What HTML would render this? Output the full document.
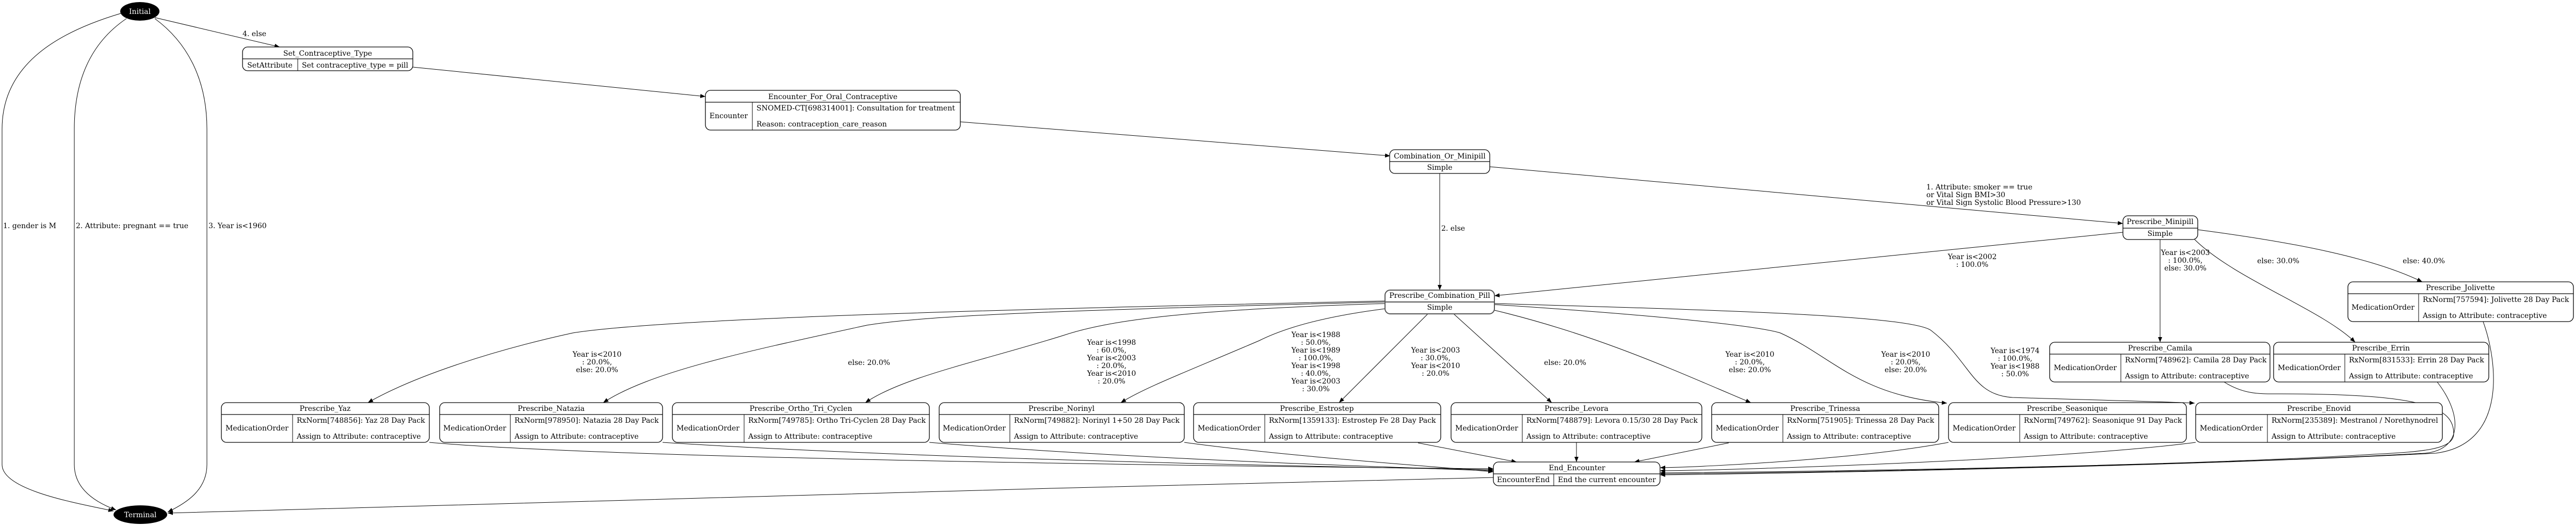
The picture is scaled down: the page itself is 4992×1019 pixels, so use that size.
<!DOCTYPE html>
<html><head><meta charset="utf-8"><style>
html,body{margin:0;padding:0;background:#fff;}
svg{display:block;}
text{font-family:"DejaVu Serif","Liberation Serif",serif;font-size:14px;fill:#000;}
.c{text-anchor:middle;}
.e{fill:none;stroke:#000;stroke-width:1;}
.n{fill:#fff;stroke:#000;stroke-width:1.3;}
.l{stroke:#000;stroke-width:1.3;}
.t{stroke:#000;stroke-width:1;}
</style></head><body>
<svg width="4992" height="1019" viewBox="0 0 4992 1019" xmlns="http://www.w3.org/2000/svg">
<defs><marker id="a" markerWidth="10" markerHeight="8" refX="10" refY="4" orient="auto" markerUnits="userSpaceOnUse"><path d="M0,0 L10,4 L0,8 z" fill="#000"/></marker></defs>

<!-- edges -->
<g class="e" marker-end="url(#a)">
<path d="M234,26 C120,60 4,120 4,250 L4,900 C4,950 150,975 220,990" marker-end="url(#a)"/>
<path d="M245,36 C180,80 144,150 144,250 L144,900 C144,950 190,975 225,988" marker-end="url(#a)"/>
<path d="M300,36 C360,80 401,150 401,250 L401,900 C401,950 360,975 325,992" marker-end="url(#a)"/>
<path d="M300,34 L542,91" marker-end="url(#a)"/>
<path d="M800,130 L1367,187" marker-end="url(#a)"/>
<path d="M1861,236 L2694,302" marker-end="url(#a)"/>
<path d="M2887,323 L4114,433" marker-end="url(#a)"/>
<path d="M2790,336 L2790,562" marker-end="url(#a)"/>
<path d="M4114,450 L2896,573" marker-end="url(#a)"/>
<path d="M4186,464 L4186,663" marker-end="url(#a)"/>
<path d="M4253,464 C4330,540 4500,600 4564,663" marker-end="url(#a)"/>
<path d="M4259,445 C4450,470 4600,500 4694,546" marker-end="url(#a)"/>
<path d="M2685,583 C2000,598 1300,615 1110,645 C950,680 800,730 713,780" marker-end="url(#a)"/>
<path d="M2685,585 C2100,600 1800,610 1680,630 C1450,680 1260,720 1169,780" marker-end="url(#a)"/>
<path d="M2685,588 C2300,600 2150,620 2060,650 C1900,700 1750,730 1677,780" marker-end="url(#a)"/>
<path d="M2685,598 C2550,615 2480,640 2440,660 C2300,720 2220,750 2172,780" marker-end="url(#a)"/>
<path d="M2767,608 L2595,780" marker-end="url(#a)"/>
<path d="M2817,608 L3007,780" marker-end="url(#a)"/>
<path d="M2896,601 C3100,650 3250,720 3393,780" marker-end="url(#a)"/>
<path d="M2896,590 C3200,610 3400,630 3450,645 C3550,690 3600,765 3773,781" marker-end="url(#a)"/>
<path d="M2896,588 C3300,600 3700,610 3742,640 C3820,700 3820,765 3900,770 C4050,775 4200,778 4253,781" marker-end="url(#a)"/>
<path d="M832,857 C1200,890 2500,905 2894,908" marker-end="url(#a)"/>
<path d="M1284,857 C1800,890 2600,905 2894,910" marker-end="url(#a)"/>
<path d="M1801,857 C2200,890 2700,905 2894,912" marker-end="url(#a)"/>
<path d="M2295,857 C2500,885 2800,905 2894,914" marker-end="url(#a)"/>
<path d="M2748,858 L2939,895" marker-end="url(#a)"/>
<path d="M3055,857 L3055,895" marker-end="url(#a)"/>
<path d="M3350,858 L3167,895" marker-end="url(#a)"/>
<path d="M3776,857 C3600,890 3300,905 3217,906" marker-end="url(#a)"/>
<path d="M4255,857 C4000,890 3400,910 3217,912" marker-end="url(#a)"/>
<path d="M4310,740 C4350,765 4380,763 4420,763 C4700,763 4755,790 4755,840 C4755,870 4700,875 4600,880 C4200,905 3400,915 3217,916" marker-end="url(#a)"/>
<path d="M4723,740 C4770,800 4775,870 4700,878 C4200,905 3400,917 3217,918" marker-end="url(#a)"/>
<path d="M4812,623 C4840,700 4860,860 4720,878 C4200,905 3400,918 3217,920" marker-end="url(#a)"/>
<path d="M2894,925 C2000,945 800,980 325,994" marker-end="url(#a)"/>
</g>

<!-- edge labels -->
<text x="6" y="442">1. gender is M</text>
<text x="147" y="442">2. Attribute: pregnant == true</text>
<text x="404" y="442">3. Year is&lt;1960</text>
<text x="470" y="70">4. else</text>
<text x="2793" y="447">2. else</text>
<text x="3733" y="367">1. Attribute: smoker == true</text>
<text x="3733" y="382">or Vital Sign BMI&gt;30</text>
<text x="3733" y="397">or Vital Sign Systolic Blood Pressure&gt;130</text>
<g class="c">
<text x="3822" y="502">Year is&lt;2002</text><text x="3822" y="517">: 100.0%</text>
<text x="4235" y="494">Year is&lt;2003</text><text x="4235" y="509">: 100.0%,</text><text x="4235" y="524">else: 30.0%</text>
<text x="4415" y="510">else: 30.0%</text>
<text x="4697" y="510">else: 40.0%</text>
<text x="1157" y="691">Year is&lt;2010</text><text x="1157" y="706">: 20.0%,</text><text x="1157" y="721">else: 20.0%</text>
<text x="1684" y="707">else: 20.0%</text>
<text x="2154" y="668">Year is&lt;1998</text><text x="2154" y="683">: 60.0%,</text><text x="2154" y="698">Year is&lt;2003</text><text x="2154" y="713">: 20.0%,</text><text x="2154" y="728">Year is&lt;2010</text><text x="2154" y="743">: 20.0%</text>
<text x="2550" y="653">Year is&lt;1988</text><text x="2550" y="668">: 50.0%,</text><text x="2550" y="683">Year is&lt;1989</text><text x="2550" y="698">: 100.0%,</text><text x="2550" y="713">Year is&lt;1998</text><text x="2550" y="728">: 40.0%,</text><text x="2550" y="743">Year is&lt;2003</text><text x="2550" y="758">: 30.0%</text>
<text x="2782" y="683">Year is&lt;2003</text><text x="2782" y="698">: 30.0%,</text><text x="2782" y="713">Year is&lt;2010</text><text x="2782" y="728">: 20.0%</text>
<text x="3033" y="707">else: 20.0%</text>
<text x="3391" y="691">Year is&lt;2010</text><text x="3391" y="706">: 20.0%,</text><text x="3391" y="721">else: 20.0%</text>
<text x="3693" y="691">Year is&lt;2010</text><text x="3693" y="706">: 20.0%,</text><text x="3693" y="721">else: 20.0%</text>
<text x="3905" y="684">Year is&lt;1974</text><text x="3905" y="699">: 100.0%,</text><text x="3905" y="714">Year is&lt;1988</text><text x="3905" y="729">: 50.0%</text>
</g>

<!-- Initial / Terminal -->
<ellipse cx="271" cy="22" rx="38" ry="18" fill="#000"/>
<text x="271" y="27" class="c" style="fill:#fff">Initial</text>
<ellipse cx="272" cy="997" rx="52" ry="18" fill="#000"/>
<text x="272" y="1002" class="c" style="fill:#fff">Terminal</text>

<!-- Set_Contraceptive_Type -->
<rect class="n" x="470" y="91" width="330" height="46" rx="10"/>
<line class="l" x1="470" y1="114" x2="800" y2="114"/><line class="t" x1="577" y1="114" x2="577" y2="137"/>
<text class="c" x="635" y="108">Set_Contraceptive_Type</text>
<text class="c" x="523" y="131">SetAttribute</text>
<text x="585" y="131">Set contraceptive_type = pill</text>

<!-- Encounter -->
<rect class="n" x="1367" y="175" width="494" height="77" rx="10"/>
<line class="l" x1="1367" y1="198" x2="1861" y2="198"/><line class="t" x1="1458" y1="198" x2="1458" y2="252"/>
<text class="c" x="1614" y="192">Encounter_For_Oral_Contraceptive</text>
<text class="c" x="1412" y="229">Encounter</text>
<text x="1466" y="214">SNOMED-CT[698314001]: Consultation for treatment</text>
<text x="1466" y="245">Reason: contraception_care_reason</text>

<!-- Combination_Or_Minipill -->
<rect class="n" x="2693" y="290" width="194" height="46" rx="10"/>
<line class="l" x1="2693" y1="313" x2="2887" y2="313"/>
<text class="c" x="2790" y="307">Combination_Or_Minipill</text>
<text class="c" x="2790" y="329">Simple</text>

<!-- Prescribe_Combination_Pill -->
<rect x="2684" y="562" width="212" height="46" rx="10" fill="#fff" stroke="#555" stroke-width="2"/>
<line x1="2684" y1="585" x2="2896" y2="585" stroke="#555" stroke-width="2"/>
<text class="c" x="2790" y="577">Prescribe_Combination_Pill</text>
<text class="c" x="2790" y="600">Simple</text>

<!-- Prescribe_Minipill -->
<rect class="n" x="4114" y="418" width="145" height="46" rx="10"/>
<line class="l" x1="4114" y1="442" x2="4259" y2="442"/>
<text class="c" x="4186" y="434">Prescribe_Minipill</text>
<text class="c" x="4186" y="457">Simple</text>

<!-- End_Encounter -->
<rect class="n" x="2894" y="895" width="323" height="46" rx="10"/>
<line class="l" x1="2894" y1="918" x2="3217" y2="918"/><line class="t" x1="3011" y1="918" x2="3011" y2="941"/>
<text class="c" x="3056" y="911">End_Encounter</text>
<text class="c" x="2952" y="934">EncounterEnd</text>
<text x="3019" y="934">End the current encounter</text>

<!-- Medication nodes row 2 -->
<g>
<rect class="n" x="429" y="780" width="403" height="77" rx="10"/><line class="l" x1="429" y1="803" x2="832" y2="803"/><line class="t" x1="567" y1="803" x2="567" y2="857"/>
<text class="c" x="630" y="796">Prescribe_Yaz</text><text class="c" x="498" y="834">MedicationOrder</text>
<text x="575" y="819">RxNorm[748856]: Yaz 28 Day Pack</text><text x="575" y="850">Assign to Attribute: contraceptive</text>

<rect class="n" x="852" y="780" width="432" height="77" rx="10"/><line class="l" x1="852" y1="803" x2="1284" y2="803"/><line class="t" x1="989" y1="803" x2="989" y2="857"/>
<text class="c" x="1068" y="796">Prescribe_Natazia</text><text class="c" x="920" y="834">MedicationOrder</text>
<text x="997" y="819">RxNorm[978950]: Natazia 28 Day Pack</text><text x="997" y="850">Assign to Attribute: contraceptive</text>

<rect class="n" x="1303" y="780" width="498" height="77" rx="10"/><line class="l" x1="1303" y1="803" x2="1801" y2="803"/><line class="t" x1="1442" y1="803" x2="1442" y2="857"/>
<text class="c" x="1552" y="796">Prescribe_Ortho_Tri_Cyclen</text><text class="c" x="1372" y="834">MedicationOrder</text>
<text x="1450" y="819">RxNorm[749785]: Ortho Tri-Cyclen 28 Day Pack</text><text x="1450" y="850">Assign to Attribute: contraceptive</text>

<rect class="n" x="1820" y="780" width="475" height="77" rx="10"/><line class="l" x1="1820" y1="803" x2="2295" y2="803"/><line class="t" x1="1957" y1="803" x2="1957" y2="857"/>
<text class="c" x="2057" y="796">Prescribe_Norinyl</text><text class="c" x="1888" y="834">MedicationOrder</text>
<text x="1965" y="819">RxNorm[749882]: Norinyl 1+50 28 Day Pack</text><text x="1965" y="850">Assign to Attribute: contraceptive</text>

<rect class="n" x="2313" y="780" width="479" height="77" rx="10"/><line class="l" x1="2313" y1="803" x2="2792" y2="803"/><line class="t" x1="2451" y1="803" x2="2451" y2="857"/>
<text class="c" x="2552" y="796">Prescribe_Estrostep</text><text class="c" x="2382" y="834">MedicationOrder</text>
<text x="2459" y="819">RxNorm[1359133]: Estrostep Fe 28 Day Pack</text><text x="2459" y="850">Assign to Attribute: contraceptive</text>

<rect class="n" x="2812" y="780" width="486" height="77" rx="10"/><line class="l" x1="2812" y1="803" x2="3298" y2="803"/><line class="t" x1="2950" y1="803" x2="2950" y2="857"/>
<text class="c" x="3055" y="796">Prescribe_Levora</text><text class="c" x="2881" y="834">MedicationOrder</text>
<text x="2958" y="819">RxNorm[748879]: Levora 0.15/30 28 Day Pack</text><text x="2958" y="850">Assign to Attribute: contraceptive</text>

<rect class="n" x="3317" y="780" width="440" height="77" rx="10"/><line class="l" x1="3317" y1="803" x2="3757" y2="803"/><line class="t" x1="3455" y1="803" x2="3455" y2="857"/>
<text class="c" x="3537" y="796">Prescribe_Trinessa</text><text class="c" x="3386" y="834">MedicationOrder</text>
<text x="3463" y="819">RxNorm[751905]: Trinessa 28 Day Pack</text><text x="3463" y="850">Assign to Attribute: contraceptive</text>

<rect class="n" x="3776" y="780" width="461" height="77" rx="10"/><line class="l" x1="3776" y1="803" x2="4237" y2="803"/><line class="t" x1="3914" y1="803" x2="3914" y2="857"/>
<text class="c" x="4006" y="796">Prescribe_Seasonique</text><text class="c" x="3845" y="834">MedicationOrder</text>
<text x="3922" y="819">RxNorm[749762]: Seasonique 91 Day Pack</text><text x="3922" y="850">Assign to Attribute: contraceptive</text>

<rect class="n" x="4255" y="780" width="478" height="77" rx="10"/><line class="l" x1="4255" y1="803" x2="4733" y2="803"/><line class="t" x1="4394" y1="803" x2="4394" y2="857"/>
<text class="c" x="4494" y="796">Prescribe_Enovid</text><text class="c" x="4324" y="834">MedicationOrder</text>
<text x="4402" y="819">RxNorm[235389]: Mestranol / Norethynodrel</text><text x="4402" y="850">Assign to Attribute: contraceptive</text>

<rect class="n" x="3972" y="663" width="427" height="77" rx="10"/><line class="l" x1="3972" y1="686" x2="4399" y2="686"/><line class="t" x1="4110" y1="686" x2="4110" y2="740"/>
<text class="c" x="4186" y="679">Prescribe_Camila</text><text class="c" x="4041" y="717">MedicationOrder</text>
<text x="4118" y="702">RxNorm[748962]: Camila 28 Day Pack</text><text x="4118" y="733">Assign to Attribute: contraceptive</text>

<rect class="n" x="4406" y="663" width="417" height="77" rx="10"/><line class="l" x1="4406" y1="686" x2="4823" y2="686"/><line class="t" x1="4544" y1="686" x2="4544" y2="740"/>
<text class="c" x="4614" y="679">Prescribe_Errin</text><text class="c" x="4475" y="717">MedicationOrder</text>
<text x="4552" y="702">RxNorm[831533]: Errin 28 Day Pack</text><text x="4552" y="733">Assign to Attribute: contraceptive</text>

<rect class="n" x="4550" y="546" width="437" height="77" rx="10"/><line class="l" x1="4550" y1="569" x2="4987" y2="569"/><line class="t" x1="4687" y1="569" x2="4687" y2="623"/>
<text class="c" x="4768" y="562">Prescribe_Jolivette</text><text class="c" x="4618" y="600">MedicationOrder</text>
<text x="4695" y="585">RxNorm[757594]: Jolivette 28 Day Pack</text><text x="4695" y="616">Assign to Attribute: contraceptive</text>
</g>
</svg>
</body></html>
